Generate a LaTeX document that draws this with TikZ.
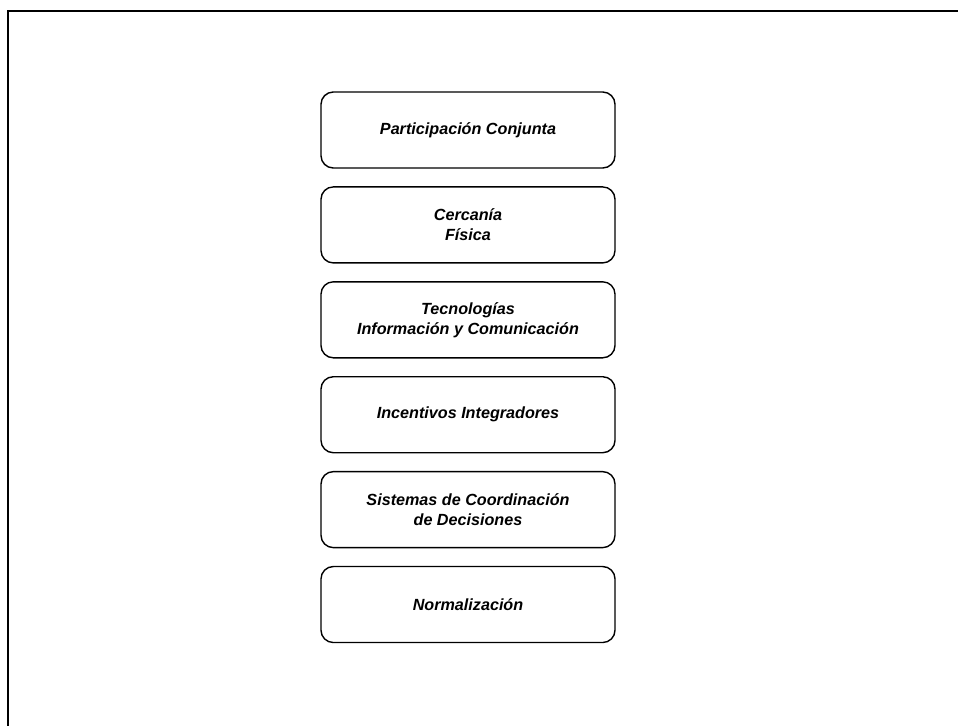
\documentclass[tikz,border=0pt]{standalone}
\usepackage{fontspec}
\setsansfont{Liberation Sans}
\usepackage{tikz}
\usetikzlibrary{positioning}

\begin{document}
\begin{tikzpicture}[
    box/.style={
        draw=black, line width=0.8pt, rounded corners=7pt,
        minimum width=5.88cm, minimum height=1.52cm,
        align=center,
        font=\sffamily\bfseries\itshape\fontsize{9.2}{11.4}\selectfont
    },
    node distance=0.35cm
]
\useasboundingbox (0,0) rectangle (19.16,-14.52);

% =========================
% FRAME
% =========================
\draw[line width=1.1pt] (0.16,-14.52) -- (0.16,-0.22) -- (19.16,-0.22);

% =========================
% BOXES
% =========================
\node[box] (PART) at (9.36,-2.6) {Participación Conjunta};

\node[box, below=of PART] (CERC) {Cercanía\\ Física};

\node[box, below=of CERC] (TIC)
 {Tecnologías\\ Información y Comunicación};

\node[box, below=of TIC] (INC) {Incentivos Integradores};

\node[box, below=of INC] (SIST)
 {Sistemas de Coordinación\\ de Decisiones};

\node[box, below=of SIST] (NORM) {Normalización};

\end{tikzpicture}
\end{document}
